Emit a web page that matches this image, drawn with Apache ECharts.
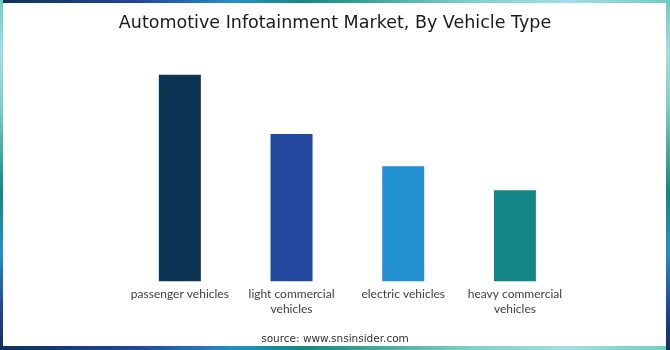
<!DOCTYPE html>
<html>
<head>
<meta charset="utf-8">
<script src="https://cdn.jsdelivr.net/npm/echarts@6/dist/echarts.min.js"></script>
<style>
html,body{margin:0;padding:0;width:670px;height:350px;overflow:hidden;background:#fff;}
.b{position:absolute;}
#top,#bot{left:0;width:670px;background:linear-gradient(90deg,#0d3357 0%,#23449a 20%,#2590c8 35%,#14877f 45%,#7fcfc8 70%,#a2dde8 85%,#70ccc3 100%);}
#top{top:0;height:3px;}
#bot{top:346px;height:4px;}
#lft,#rgt{top:0;height:350px;background:linear-gradient(180deg,#70ccc3 0%,#a2dde8 15%,#7fcfc8 30%,#14877f 55%,#2590c8 72%,#23449a 88%,#0d3357 100%);}
#lft{left:0;width:3px;}
#rgt{left:666px;width:4px;}
#chart{position:absolute;left:0;top:0;width:670px;height:350px;}
</style>
</head>
<body>
<div class="b" id="top"></div>
<div class="b" id="bot"></div>
<div class="b" id="lft"></div>
<div class="b" id="rgt"></div>
<div id="chart"></div>
<script>
const categories = ["passenger vehicles", "light commercial vehicles", "electric vehicles", "heavy commercial vehicles"];
const values = [206.6, 147.3, 115, 91];
const barColors = ["#0c3352", "#22479c", "#2290ce", "#128584"];
const titleText = "Automotive Infotainment Market, By Vehicle Type";
const sourceText = "source: www.snsinsider.com";

const chart = echarts.init(document.getElementById('chart'), null, {renderer: 'canvas'});
chart.setOption({
  backgroundColor: 'transparent',
  animation: false,
  title: [
    {text: titleText, left: 'center', top: 9,
     textStyle: {fontFamily: 'DejaVu Sans', fontWeight: 'normal', fontSize: 17.5, color: '#1a1a1a'}},
    {text: sourceText, left: 'center', top: 329,
     textStyle: {fontFamily: 'DejaVu Sans', fontWeight: 'normal', fontSize: 10.5, color: '#333333'}}
  ],
  grid: {left: 124, right: 99.25, top: 74.7, bottom: 68.7},
  xAxis: {
    type: 'category', data: categories,
    axisLine: {show: false}, axisTick: {show: false},
    axisLabel: {
      interval: 0, margin: 5, color: '#404040', fontFamily: 'Lato', fontSize: 12, lineHeight: 15,
      formatter: function (v) { return v.length > 20 ? v.replace(/ (\S+)$/, '\n$1') : v; }
    }
  },
  yAxis: {type: 'value', min: 0, max: 206.6, show: false, splitLine: {show: false}},
  series: [{
    type: 'bar', barWidth: 42,
    data: values.map((v, i) => ({value: v, itemStyle: {color: barColors[i]}}))
  }]
});
</script>
</body>
</html>
